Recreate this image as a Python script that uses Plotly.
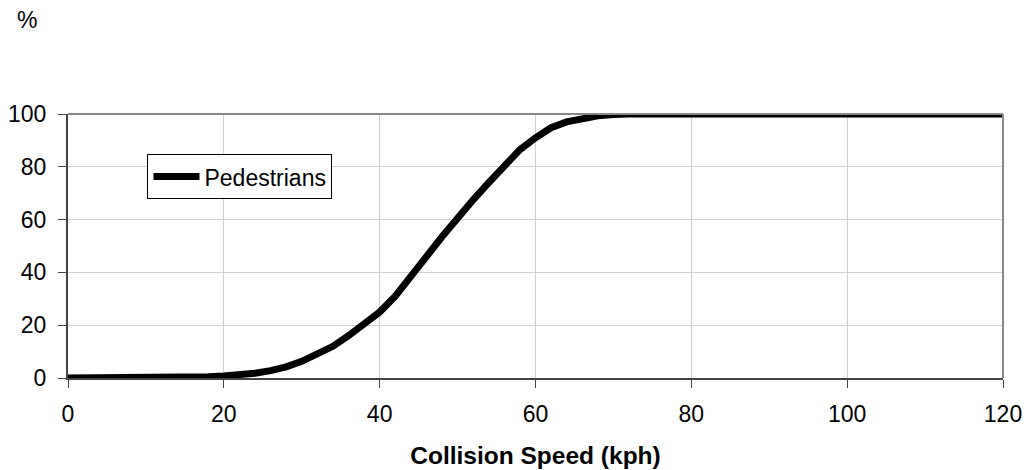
import plotly.graph_objects as go

speed = [0, 10, 12, 14, 16, 18, 20, 22, 24, 26, 28, 30, 32, 34, 36, 38, 40, 42, 43, 44,
         46, 48, 50, 52, 54, 56, 58, 60, 62, 64, 66, 68, 70, 72, 80, 90, 100, 110, 120]
pedestrians = [0, 0, 0.5, 0.5, 0.5, 0.5, 0.8, 1.2, 1.8, 2.8, 4.2, 6.3, 8.8, 12, 16, 20.5, 25, 31, 35, 38,
               46, 53.5, 61, 67.5, 74, 80.5, 86.5, 91, 94.8, 97, 98.3, 99.3, 99.8, 100, 100, 100, 100, 100, 100]

FONT = "Liberation Sans, Arial, sans-serif"

fig = go.Figure()
fig.add_trace(go.Scatter(
    x=speed, y=pedestrians, mode="lines", name="Pedestrians",
    line=dict(color="black", width=7), cliponaxis=False,
))

fig.update_layout(
    width=1026, height=470,
    margin=dict(l=68, r=23, t=114, b=92),
    paper_bgcolor="white", plot_bgcolor="white",
    font=dict(family=FONT, size=23, color="black"),
    showlegend=True,
    legend=dict(x=0.085, y=0.848, xanchor="left", yanchor="top",
                bordercolor="black", borderwidth=1, bgcolor="white",
                font=dict(family=FONT, size=23, color="black"),
                itemwidth=46, tracegroupgap=0),
    xaxis=dict(range=[0, 120], tickvals=[0, 20, 40, 60, 80, 100, 120],
               showgrid=True, gridcolor="#d0d0d0", gridwidth=1,
               showline=True, linecolor="#444444", linewidth=2, mirror=False,
               ticks="outside", ticklen=8, tickcolor="#444444",
               ticklabelstandoff=6, ticklabeloverflow="allow",
               tickfont=dict(family=FONT, size=23, color="black"),
               title=dict(text="<b>Collision Speed (kph)</b>", standoff=21,
                          font=dict(family=FONT, size=24.5, color="black")),
               zeroline=False, automargin=False),
    yaxis=dict(range=[0, 100], tickvals=[0, 20, 40, 60, 80, 100],
               showgrid=True, gridcolor="#d0d0d0", gridwidth=1,
               showline=True, linecolor="#444444", linewidth=2,
               ticks="outside", ticklen=8, tickcolor="#444444",
               ticklabelstandoff=7,
               tickfont=dict(family=FONT, size=23, color="black"),
               zeroline=False, automargin=False),
    shapes=[
        dict(type="line", xref="paper", yref="paper", x0=0, x1=1, y0=1, y1=1,
             line=dict(color="#888888", width=2)),
        dict(type="line", xref="paper", yref="paper", x0=1, x1=1, y0=0, y1=1,
             line=dict(color="#888888", width=2)),
    ],
    annotations=[
        dict(text="%", xref="paper", yref="paper", x=-0.044, y=1.356,
             xanchor="center", yanchor="middle", showarrow=False,
             font=dict(family=FONT, size=23, color="black")),
    ],
)

fig.write_html(
    "out.html",
    config={"displayModeBar": False},
    post_script="document.body.style.margin='0px';document.body.style.overflow='hidden';",
)
